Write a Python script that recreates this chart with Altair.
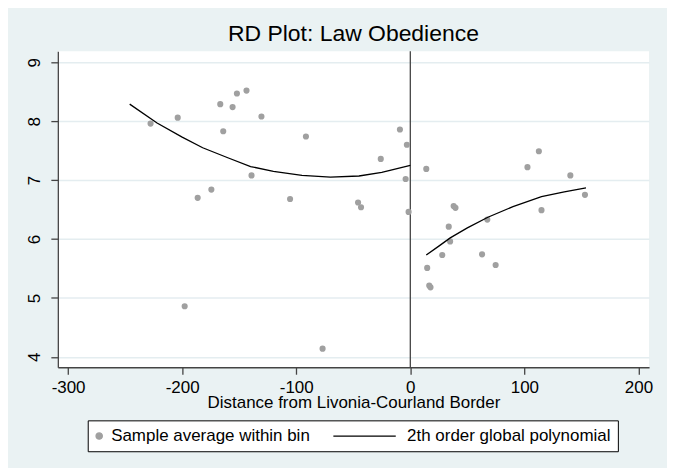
import altair as alt
import pandas as pd

# ---- data ----
bin_x = [-227.7, -203.9, -166.6, -155.8, -152.0, -143.6, -164.0, -139.2, -174.4, -186.4,
         -130.5, -91.5, -105.4, -9.1, -3.0, -25.9, -4.1, -45.8, -43.2, -1.5, -197.8, -76.9,
         14.0, 102.7, 112.7, 140.3, 153.1, 115.0, 38.0, 39.6, 67.5, 33.7, 34.9, 28.0, 62.9,
         74.8, 14.8, 16.6, 17.7]
bin_y = [7.96, 8.06, 8.29, 8.24, 8.47, 8.52, 7.83, 7.08, 6.84, 6.70,
         8.08, 7.74, 6.68, 7.86, 7.60, 7.36, 7.02, 6.62, 6.54, 6.46, 4.86, 4.14,
         7.19, 7.22, 7.49, 7.08, 6.75, 6.49, 6.56, 6.53, 6.33, 6.21, 5.96, 5.73, 5.74,
         5.56, 5.51, 5.21, 5.18]

fit_left_x = [-246, -222, -200, -182, -160, -140, -120, -95, -70, -45, -25, 0]
fit_left_y = [8.29, 7.97, 7.73, 7.55, 7.38, 7.23, 7.15, 7.08, 7.05, 7.07, 7.13, 7.25]
fit_right_x = [14, 25, 35, 50, 68, 90, 115, 135, 154]
fit_right_y = [5.73, 5.88, 6.02, 6.19, 6.37, 6.55, 6.72, 6.80, 6.87]

cutoff = [0]
x_ticks = [-300, -200, -100, 0, 100, 200]
y_ticks = [4, 5, 6, 7, 8, 9]

series_pts = "Sample average within bin"
series_fit = "2th order global polynomial"

pts = pd.DataFrame({"x": bin_x, "y": bin_y, "series": series_pts})
fit = pd.concat([
    pd.DataFrame({"x": fit_left_x, "y": fit_left_y, "side": "left"}),
    pd.DataFrame({"x": fit_right_x, "y": fit_right_y, "side": "right"}),
])
fit["series"] = series_fit
cut = pd.DataFrame({"x": cutoff})

FONT = "Liberation Sans"

xs = alt.Scale(domain=[-309, 209.3], nice=False, zero=False)
ys = alt.Scale(domain=[3.824, 9.186], nice=False, zero=False)

X = alt.X("x:Q", scale=xs, axis=alt.Axis(
    values=x_ticks, title="Distance from Livonia-Courland Border", grid=False,
    labelExpr="datum.value + ''", tickSize=7, labelPadding=5,
    titleY=40, titleBaseline="alphabetic"))
Y = alt.Y("y:Q", scale=ys, axis=alt.Axis(
    values=y_ticks, title=None, grid=True, labelAngle=270, labelAlign="center",
    labelBaseline="bottom", tickSize=7, labelPadding=7))

cond = "datum.value === '" + series_pts + "'"
legend = alt.Legend(
    title=None, orient="none", legendX=30, legendY=370.3, direction="horizontal",
    strokeColor="black", fillColor="white", padding=7, columnPadding=19,
    labelFont=FONT, labelFontSize=17, labelColor="black", labelLimit=400,
    symbolSize=40, symbolOffset=-4, symbolStrokeWidth=1.3, symbolOpacity=1,
    symbolType=alt.ExprRef(expr=cond + " ? 'circle' : 'M0,0H19.8'"),
    symbolFillColor=alt.ExprRef(expr=cond + " ? '#a0a0a0' : 'transparent'"),
    symbolStrokeColor=alt.ExprRef(expr=cond + " ? 'transparent' : 'black'"),
    labelOffset=alt.ExprRef(expr=cond + " ? 3.5 : 65.5"),
)
color = alt.Color("series:N", scale=alt.Scale(domain=[series_pts, series_fit],
                                               range=["#a0a0a0", "black"]), legend=legend)

rule = alt.Chart(cut).mark_rule(color="#444444", strokeWidth=1.3).encode(x=X)
points = alt.Chart(pts).mark_circle(size=38, opacity=1).encode(x=X, y=Y, color=color)
line = alt.Chart(fit).mark_line(strokeWidth=1.3).encode(x=X, y=Y, detail="side:N", color=color)

chart = alt.layer(rule, points, line).properties(
    width=593.3, height=317,
    autosize=alt.AutoSizeParams(type="none"),
    padding={"left": 50, "top": 42.7, "right": 18, "bottom": 100},
    background="#EAF2F3",
    title=alt.TitleParams("RD Plot: Law Obedience", font=FONT, fontSize=23,
                          fontWeight="normal", color="black", anchor="middle",
                          baseline="alphabetic", offset=9, dy=22),
).configure_view(fill="white", strokeWidth=0).configure_axis(
    labelFont=FONT, labelFontSize=17, labelColor="black",
    titleFont=FONT, titleFontSize=17, titleColor="black", titleFontWeight="normal",
    domainColor="#444444", domainWidth=1.3, tickColor="#444444", tickWidth=1.3,
    gridColor="#E4EDF0", gridWidth=1.5,
)

chart.save("out.html", embed_options={"renderer": "svg", "actions": False})
